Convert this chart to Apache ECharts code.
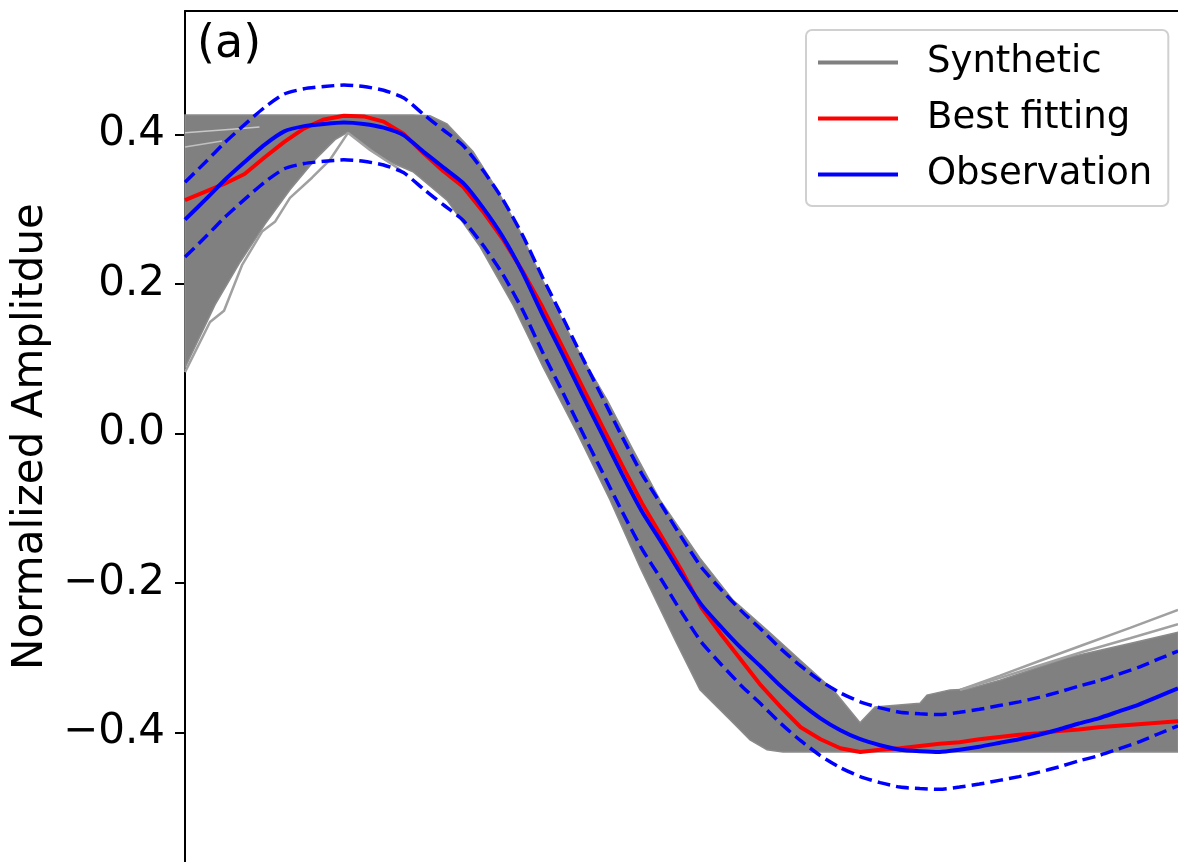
<!DOCTYPE html>
<html>
<head>
<meta charset="utf-8">
<script src="https://cdn.jsdelivr.net/npm/echarts@6/dist/echarts.min.js"></script>
<style>
  html, body { margin: 0; padding: 0; background: #ffffff; }
  #chart { width: 1178px; height: 862px; }
</style>
</head>
<body>
<div id="chart"></div>
<script>
// Sample times of the waveforms (arbitrary time units)
const time = [
  0, 0.2, 0.4, 0.6, 0.8, 1, 1.2, 1.4, 1.6, 1.8,
  2, 2.2, 2.4, 2.6, 2.8, 3, 3.2, 3.4, 3.6, 3.8,
  4, 4.2, 4.4, 4.6, 4.8, 5, 5.2, 5.4, 5.6, 5.8,
  6, 6.2, 6.4, 6.6, 6.8, 7, 7.2, 7.4, 7.6, 7.8,
  8, 8.2, 8.4, 8.6, 8.8, 9, 9.2, 9.4, 9.6, 9.8, 10
];

// Observed waveform
const observation = [
  0.286, 0.312, 0.339, 0.363, 0.386, 0.404, 0.411, 0.414, 0.416, 0.414,
  0.409, 0.399, 0.377, 0.356, 0.335, 0.302, 0.263, 0.215, 0.159, 0.106,
  0.052, -0.001, -0.054, -0.104, -0.146, -0.189, -0.229, -0.259, -0.287, -0.312,
  -0.338, -0.361, -0.381, -0.397, -0.409, -0.417, -0.423, -0.425, -0.426, -0.423,
  -0.419, -0.414, -0.409, -0.403, -0.396, -0.388, -0.381, -0.372, -0.363, -0.352, -0.341
];

// Upper and lower misfit bounds around the observation
const obsUpper = [
  0.336, 0.362, 0.389, 0.413, 0.436, 0.454, 0.461, 0.464, 0.466, 0.464,
  0.459, 0.449, 0.427, 0.406, 0.385, 0.352, 0.313, 0.265, 0.209, 0.156,
  0.102, 0.049, -0.004, -0.054, -0.096, -0.139, -0.179, -0.209, -0.237, -0.262,
  -0.288, -0.311, -0.331, -0.347, -0.359, -0.367, -0.373, -0.375, -0.376, -0.373,
  -0.369, -0.364, -0.359, -0.353, -0.346, -0.338, -0.331, -0.322, -0.313, -0.302, -0.291
];
const obsLower = [
  0.236, 0.262, 0.289, 0.313, 0.336, 0.354, 0.361, 0.364, 0.366, 0.364,
  0.359, 0.349, 0.327, 0.306, 0.285, 0.252, 0.213, 0.165, 0.109, 0.056,
  0.002, -0.051, -0.104, -0.154, -0.196, -0.239, -0.279, -0.309, -0.337, -0.362,
  -0.388, -0.411, -0.431, -0.447, -0.459, -0.467, -0.473, -0.475, -0.476, -0.473,
  -0.469, -0.464, -0.459, -0.453, -0.446, -0.438, -0.431, -0.422, -0.413, -0.402, -0.391
];

// Best-fitting synthetic waveform
const bestFitting = [
  0.312, 0.323, 0.334, 0.347, 0.369, 0.390, 0.408, 0.420, 0.425, 0.424,
  0.417, 0.401, 0.375, 0.351, 0.330, 0.297, 0.260, 0.217, 0.169, 0.116,
  0.063, 0.010, -0.042, -0.093, -0.138, -0.183, -0.233, -0.269, -0.303, -0.337,
  -0.366, -0.393, -0.409, -0.421, -0.426, -0.423, -0.421, -0.418, -0.415, -0.413,
  -0.409, -0.406, -0.403, -0.401, -0.398, -0.396, -0.393, -0.391, -0.389, -0.387, -0.385
];

// Envelope of the bundle of synthetic waveforms: [time, amplitude]
const synthUpperEdge = [
  [0, 0.426], [1.158, 0.426], [2.296, 0.426], [2.467, 0.425], [2.638, 0.414],
  [2.900, 0.377], [3.142, 0.326], [3.374, 0.270], [3.646, 0.192], [3.927, 0.118],
  [4.250, 0.045], [4.512, -0.022], [4.783, -0.089], [5.186, -0.167], [5.519, -0.223],
  [5.861, -0.263], [6.193, -0.303], [6.526, -0.343], [6.798, -0.387], [6.949, -0.366],
  [7.402, -0.361], [7.472, -0.350], [7.704, -0.343], [7.875, -0.342], [8.207, -0.330],
  [8.882, -0.300], [9.547, -0.280], [10, -0.266]
];
const synthLowerEdge = [
  [0, 0.088], [0.302, 0.172], [0.554, 0.229], [0.806, 0.280], [1.057, 0.326],
  [1.309, 0.366], [1.511, 0.393], [1.641, 0.403], [2.014, 0.366], [2.296, 0.350],
  [2.638, 0.312], [2.971, 0.250], [3.303, 0.172], [3.605, 0.089], [3.948, 0.001],
  [4.280, -0.089], [4.582, -0.179], [4.935, -0.276], [5.186, -0.343], [5.519, -0.387],
  [5.690, -0.410], [5.861, -0.423], [6.022, -0.426], [10, -0.426]
];

// Individual synthetic traces that stray outside the bundle
const synthStrayLow = [
  [0, 0.082], [0.252, 0.149], [0.393, 0.164], [0.574, 0.225], [0.776, 0.270],
  [0.906, 0.283], [1.057, 0.315], [1.279, 0.342], [1.460, 0.366], [1.641, 0.402],
  [1.863, 0.379], [2.165, 0.353]
];
const synthStrayHighA = [
  [7.805, -0.343], [8.207, -0.324], [8.610, -0.304], [9.043, -0.283], [9.517, -0.260], [10, -0.236]
];
const synthStrayHighB = [
  [7.805, -0.343], [8.207, -0.327], [8.610, -0.310], [9.043, -0.292], [9.517, -0.274], [10, -0.255]
];
const synthInnerA = [[0, 0.402], [0.473, 0.407], [0.75, 0.41]];
const synthInnerB = [[0, 0.383], [0.373, 0.391]];

// Axis tick positions
const yTicks = [-0.4, -0.2, 0.0, 0.2, 0.4];

const FONT = 'DejaVu Sans';
const pairs = (xs, ys) => xs.map((x, i) => [x, ys[i]]);

const chart = echarts.init(document.getElementById('chart'), null, { renderer: 'canvas' });

function strayLine(data, color, width) {
  return {
    name: 'Synthetic',
    type: 'line',
    data: data,
    showSymbol: false,
    silent: true,
    lineStyle: { color: color, width: width },
    itemStyle: { color: '#808080' }
  };
}

const option = {
  animation: false,
  backgroundColor: '#ffffff',
  title: {
    text: '(a)',
    left: 192,
    top: 17,
    textStyle: { fontFamily: FONT, fontSize: 46, fontWeight: 'normal', color: '#000' }
  },
  legend: {
    left: 806,
    top: 30,
    orient: 'vertical',
    padding: [14, 16, 13, 12],
    itemGap: 19,
    itemWidth: 80,
    itemHeight: 4,
    icon: 'rect',
    backgroundColor: 'rgba(255,255,255,0.8)',
    borderColor: '#d0d0d0',
    borderWidth: 2,
    borderRadius: 6,
    textStyle: { fontFamily: FONT, fontSize: 37, color: '#000', padding: [0, 0, 0, 24] },
    data: [
      { name: 'Synthetic', itemStyle: { color: '#808080' } },
      { name: 'Best fitting', itemStyle: { color: '#ff0000' } },
      { name: 'Observation', itemStyle: { color: '#0000ff' } }
    ],
    selectedMode: false
  },
  grid: { left: 185, right: 0, top: 11, bottom: 0, containLabel: false },
  xAxis: {
    type: 'value',
    position: 'top',
    min: 0,
    max: 10,
    axisLine: { show: true, onZero: false, lineStyle: { color: '#000', width: 2 } },
    axisTick: { show: false },
    axisLabel: { show: false },
    splitLine: { show: false }
  },
  yAxis: {
    type: 'value',
    min: -0.5732,
    max: 0.565,
    name: 'Normalized Amplitdue',
    nameLocation: 'middle',
    nameGap: 130,
    nameTextStyle: { fontFamily: FONT, fontSize: 42, color: '#000' },
    axisLine: { show: true, onZero: false, lineStyle: { color: '#000', width: 2 } },
    axisTick: {
      show: true, inside: false, length: 10, customValues: yTicks,
      lineStyle: { color: '#000', width: 2 }
    },
    axisLabel: {
      show: true, margin: 20, customValues: yTicks,
      fontFamily: FONT, fontSize: 42, color: '#000',
      formatter: v => (v < -1e-9 ? '\u2212' : '') + Math.abs(v).toFixed(1)
    },
    splitLine: { show: false }
  },
  series: [
    {
      name: 'Synthetic',
      type: 'custom',
      silent: true,
      itemStyle: { color: '#808080' },
      data: [[0, 0]],
      renderItem: function (params, api) {
        const ring = synthUpperEdge.concat(synthLowerEdge.slice().reverse());
        const points = ring.map(p => api.coord(p));
        return {
          type: 'polygon',
          shape: { points: points, smooth: 0 },
          style: { fill: '#808080', stroke: '#8a8a8a', lineWidth: 1.5 }
        };
      }
    },
    strayLine(synthStrayLow, '#a0a0a0', 2.5),
    strayLine(synthStrayHighA, '#a0a0a0', 2.5),
    strayLine(synthStrayHighB, '#a0a0a0', 2.5),
    strayLine(synthInnerA, '#c8c8c8', 1.5),
    strayLine(synthInnerB, '#c0c0c0', 1.5),
    {
      name: 'Best fitting',
      type: 'line',
      data: pairs(time, bestFitting),
      showSymbol: false,
      lineStyle: { color: '#ff0000', width: 4 },
      itemStyle: { color: '#ff0000' }
    },
    {
      name: 'Observation',
      type: 'line',
      data: pairs(time, observation),
      showSymbol: false,
      smooth: 0.2,
      lineStyle: { color: '#0000ff', width: 4 },
      itemStyle: { color: '#0000ff' }
    },
    {
      name: 'Observation upper bound',
      type: 'line',
      data: pairs(time, obsUpper),
      showSymbol: false,
      smooth: 0.2,
      lineStyle: { color: '#0000ff', width: 3.5, type: [13, 6] },
      itemStyle: { color: '#0000ff' }
    },
    {
      name: 'Observation lower bound',
      type: 'line',
      data: pairs(time, obsLower),
      showSymbol: false,
      smooth: 0.2,
      lineStyle: { color: '#0000ff', width: 3.5, type: [13, 6] },
      itemStyle: { color: '#0000ff' }
    }
  ]
};

chart.setOption(option);
</script>
</body>
</html>
